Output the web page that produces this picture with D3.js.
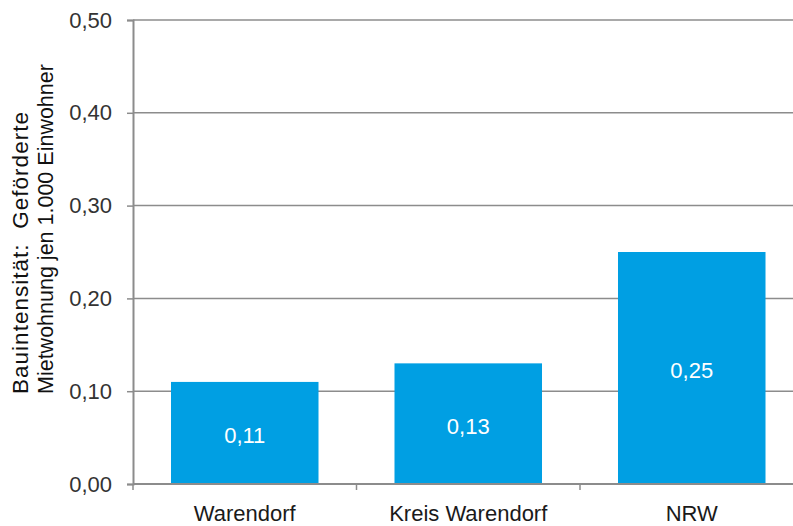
<!DOCTYPE html>
<html><head><meta charset="utf-8">
<script src="https://cdn.jsdelivr.net/npm/d3@7/dist/d3.min.js"></script>
<style>body{margin:0;background:#fff}svg{display:block}text{font-family:"Liberation Sans",Arial,sans-serif}</style>
</head><body>
<svg id="c" width="793" height="526"></svg>
<script>
const categories = ["Warendorf", "Kreis Warendorf", "NRW"];
const values = [0.11, 0.13, 0.25];
const yTicks = [0, 0.1, 0.2, 0.3, 0.4, 0.5];
const titleLines = ["Bauintensität:  Geförderte", "Mietwohnung jen 1.000 Einwohner"];

const svg = d3.select("#c");
const FONT = "Liberation Sans, Arial, sans-serif";
const fmt = v => d3.format(".2f")(v).replace(".", ",");
const x = d3.scaleBand().domain(categories).range([133, 803.5]).paddingInner(0.34).paddingOuter(0.17);
const y = d3.scaleLinear().domain([0, 0.5]).range([484, 20]);

// gridlines
svg.append("g").selectAll("line").data(yTicks.filter(d => d > 0)).join("line")
  .attr("x1", 133).attr("x2", 800).attr("y1", d => y(d)).attr("y2", d => y(d))
  .attr("stroke", "#8c8c8c").attr("stroke-width", 1.5);

// bars
svg.append("g").selectAll("rect").data(values).join("rect")
  .attr("x", (d, i) => x(categories[i])).attr("width", x.bandwidth())
  .attr("y", d => y(d)).attr("height", d => y(0) - y(d))
  .attr("fill", "#009FE3");

// value labels
svg.append("g").selectAll("text").data(values).join("text")
  .attr("x", (d, i) => x(categories[i]) + x.bandwidth() / 2)
  .attr("y", d => (y(d) + y(0)) / 2 + 10)
  .attr("text-anchor", "middle").attr("fill", "#fff").attr("font-size", 22)
  .text(d => fmt(d));

// y axis
const ya = svg.append("g").attr("transform", "translate(133,0)")
  .call(d3.axisLeft(y).tickValues(yTicks).tickSize(6).tickPadding(15).tickFormat(fmt));
ya.select(".domain").attr("stroke", "#8c8c8c").attr("stroke-width", 2);
ya.selectAll(".tick line").attr("stroke", "#8c8c8c").attr("stroke-width", 1.5);
ya.selectAll(".tick text").attr("font-size", 22).attr("fill", "#333").attr("font-family", FONT);

// x axis
const xa = svg.append("g").attr("transform", "translate(0,484)")
  .call(d3.axisBottom(x).tickSize(0));
xa.select(".domain").attr("d", "M133,0H800").attr("stroke", "#8c8c8c").attr("stroke-width", 2);
xa.selectAll(".tick text").attr("y", 37).attr("dy", null)
  .attr("font-size", 22).attr("fill", "#1a1a1a").attr("font-family", FONT);
// category boundary ticks
const bounds = [133, ...categories.slice(1).map(c => x(c) - x.step() * x.paddingInner() / 2)];
svg.append("g").selectAll("line").data(bounds).join("line")
  .attr("x1", d => d).attr("x2", d => d).attr("y1", 484).attr("y2", 490)
  .attr("stroke", "#8c8c8c").attr("stroke-width", 1.5);

// y title
const tg = svg.append("g").attr("transform", "translate(0,394) rotate(-90)").attr("fill", "#111");
tg.append("text").attr("x", 0).attr("y", 28).attr("font-size", 22.5)
  .style("white-space", "pre").attr("xml:space", "preserve")
  .attr("textLength", 282).attr("lengthAdjust", "spacing").text(titleLines[0]);
tg.append("text").attr("x", 0).attr("y", 53).attr("font-size", 21.5).text(titleLines[1]);
</script>
</body></html>
